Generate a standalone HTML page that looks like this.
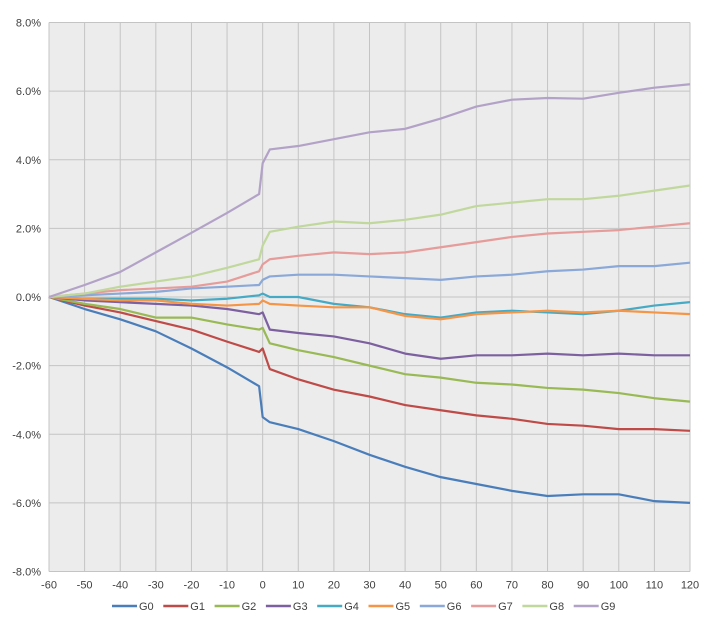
<!DOCTYPE html>
<html><head><meta charset="utf-8"><style>
body{margin:0;background:#fff;width:702px;height:624px;overflow:hidden;font-family:"Liberation Sans",sans-serif}
</style></head><body>
<svg id="c" width="702" height="624"></svg>
<script>
const xs=[-60,-50,-40,-30,-20,-10,-1,0,2,10,20,30,40,50,60,70,80,90,100,110,120];
const names=["G0","G1","G2","G3","G4","G5","G6","G7","G8","G9"];
const colors=["#4a7ebb","#be4b48","#98b954","#7d60a0","#46aac5","#f69545","#8aa8d8","#e59c9a","#c0d89c","#b3a2c7"];
const g0=[0,-0.35,-0.65,-1.0,-1.5,-2.05,-2.6,-3.5,-3.65,-3.85,-4.2,-4.6,-4.95,-5.25,-5.45,-5.65,-5.8,-5.75,-5.75,-5.95,-6.0];
const g1=[0,-0.25,-0.45,-0.7,-0.95,-1.3,-1.6,-1.5,-2.1,-2.4,-2.7,-2.9,-3.15,-3.3,-3.45,-3.55,-3.7,-3.75,-3.85,-3.85,-3.9];
const g2=[0,-0.2,-0.35,-0.6,-0.6,-0.8,-0.95,-0.9,-1.35,-1.55,-1.75,-2.0,-2.25,-2.35,-2.5,-2.55,-2.65,-2.7,-2.8,-2.95,-3.05];
const g3=[0,-0.1,-0.15,-0.2,-0.25,-0.35,-0.5,-0.45,-0.95,-1.05,-1.15,-1.35,-1.65,-1.8,-1.7,-1.7,-1.65,-1.7,-1.65,-1.7,-1.7];
const g4=[0,-0.05,-0.05,-0.05,-0.1,-0.05,0.05,0.1,0.0,0.0,-0.2,-0.3,-0.5,-0.6,-0.45,-0.4,-0.45,-0.5,-0.4,-0.25,-0.15];
const g5=[0,-0.05,-0.1,-0.1,-0.2,-0.25,-0.2,-0.1,-0.2,-0.25,-0.3,-0.3,-0.55,-0.65,-0.5,-0.45,-0.4,-0.45,-0.4,-0.45,-0.5];
const g6=[0,0.05,0.1,0.15,0.25,0.3,0.35,0.5,0.6,0.65,0.65,0.6,0.55,0.5,0.6,0.65,0.75,0.8,0.9,0.9,1.0];
const g7=[0,0.1,0.2,0.25,0.3,0.45,0.75,0.95,1.1,1.2,1.3,1.25,1.3,1.45,1.6,1.75,1.85,1.9,1.95,2.05,2.15];
const g8=[0,0.1,0.3,0.45,0.6,0.85,1.1,1.5,1.9,2.05,2.2,2.15,2.25,2.4,2.65,2.75,2.85,2.85,2.95,3.1,3.25];
const g9=[0,0.35,0.73,1.3,1.87,2.45,3.0,3.9,4.3,4.4,4.6,4.8,4.9,5.2,5.55,5.75,5.8,5.78,5.95,6.1,6.2];
const series=[g0,g1,g2,g3,g4,g5,g6,g7,g8,g9];
const xTicks=[-60,-50,-40,-30,-20,-10,0,10,20,30,40,50,60,70,80,90,100,110,120];
const yTicks=[-8,-6,-4,-2,0,2,4,6,8];
const X0=49,X1=690,Y0=571.5,Y1=22.5;
const sx=v=>X0+(v+60)/180*(X1-X0);
const sy=v=>Y0-(v+8)/16*(Y0-Y1);
const svg=document.getElementById('c');const NS="http://www.w3.org/2000/svg";
function mk(t,a,p){const e=document.createElementNS(NS,t);for(const k in a)e.setAttribute(k,a[k]);(p||svg).appendChild(e);return e;}
const bg=mk('rect',{x:X0,y:Y1,width:X1-X0,height:Y0-Y1,fill:'#ececec'});


xTicks.forEach(t=>{const l=mk('line',{x1:sx(t),x2:sx(t),y1:Y1,y2:Y0,stroke:'#c4c4c4','stroke-width':1});


const tx=mk('text',{x:sx(t),y:Y0+17,'text-anchor':'middle','font-size':11,fill:'#404040'});tx.textContent=t;

});
yTicks.forEach(t=>{const l=mk('line',{x1:X0,x2:X1,y1:sy(t),y2:sy(t),stroke:'#c4c4c4','stroke-width':1});


const tx=mk('text',{x:X0-8,y:sy(t)+4,'text-anchor':'end','font-size':11,fill:'#404040'});tx.textContent=t.toFixed(1)+'%';

});
series.forEach((s,i)=>{const p=mk('polyline',{points:s.map((v,j)=>sx(xs[j])+','+sy(v)).join(' '),fill:'none',stroke:colors[i],'stroke-width':2.2,'stroke-linejoin':'round'});


const lx=112+i*51.3;
const g=mk('g',{});


mk('line',{x1:lx,x2:lx+25,y1:606,y2:606,stroke:colors[i],'stroke-width':2.5},g);
const t=mk('text',{x:lx+27,y:610,'font-size':11,fill:'#404040'},g);t.textContent=names[i];});
</script>
</body></html>
